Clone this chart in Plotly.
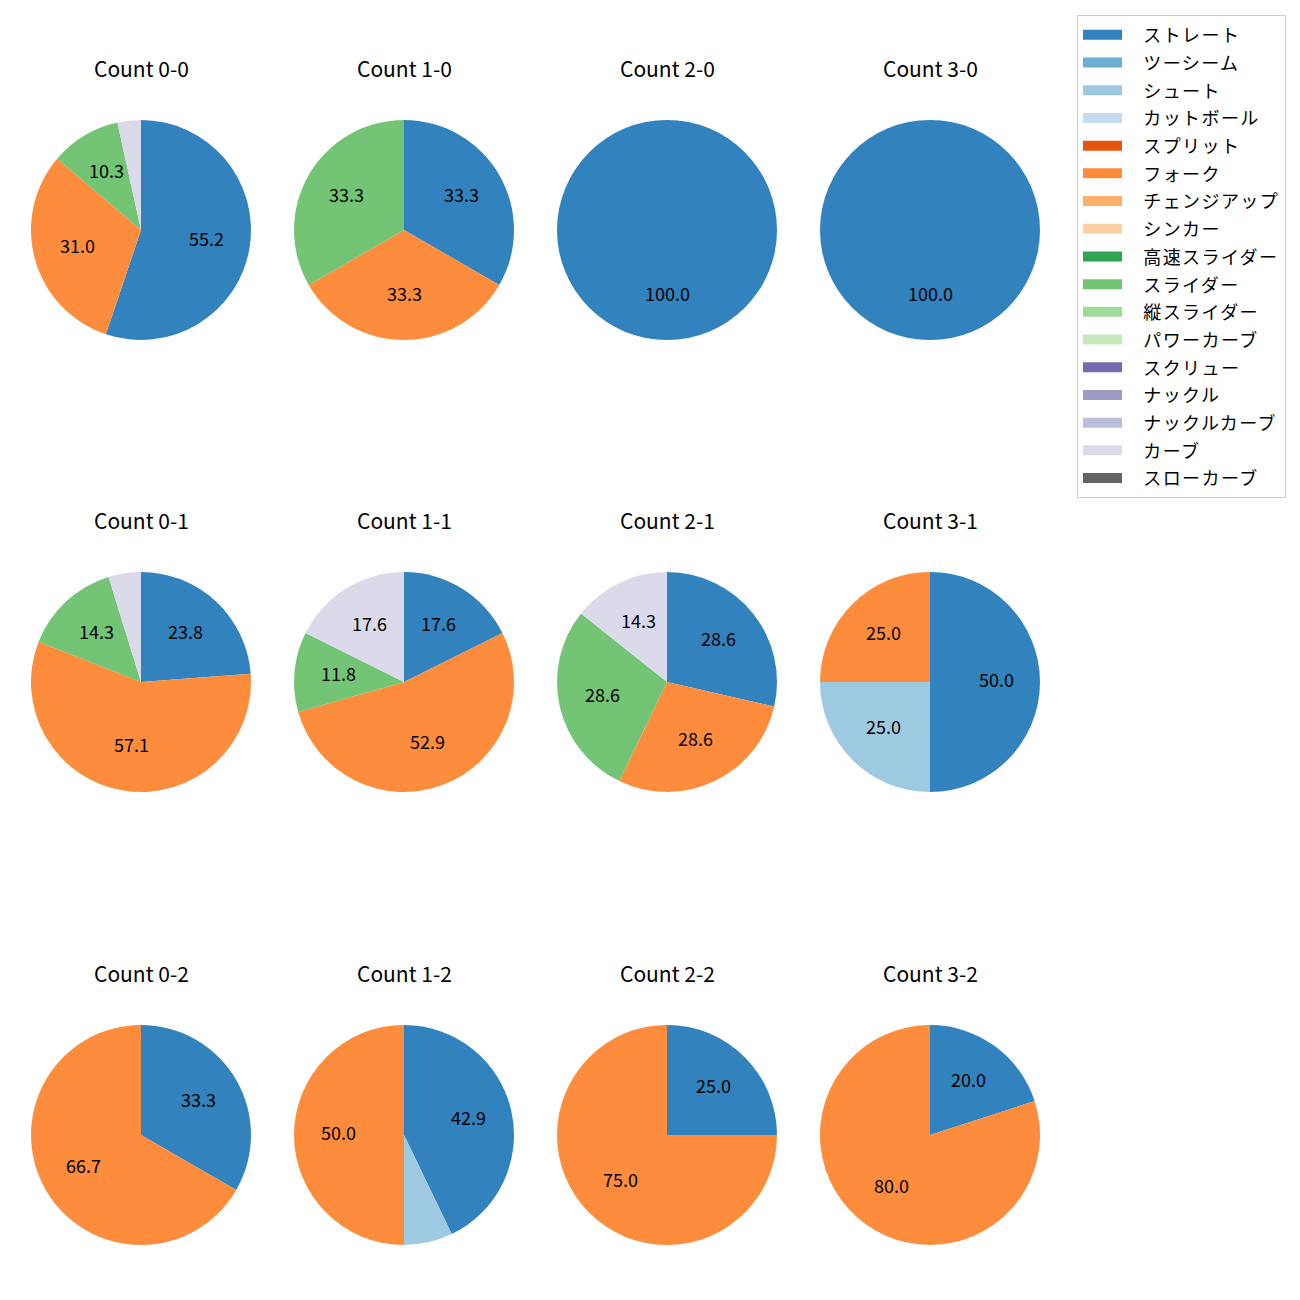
import math
import plotly.graph_objects as go

pitch_types = ["ストレート", "ツーシーム", "シュート", "カットボール", "スプリット", "フォーク",
               "チェンジアップ", "シンカー", "高速スライダー", "スライダー", "縦スライダー",
               "パワーカーブ", "スクリュー", "ナックル", "ナックルカーブ", "カーブ", "スローカーブ"]
colors = ["#3182bd", "#6baed6", "#9ecae1", "#c6dbef", "#e6550d", "#fd8d3c", "#fdae6b", "#fdd0a2",
          "#31a354", "#74c476", "#a1d99b", "#c7e9c0", "#756bb1", "#9e9ac8", "#bcbddc", "#dadaeb",
          "#636363"]

titles = ["Count 0-0", "Count 1-0", "Count 2-0", "Count 3-0",
          "Count 0-1", "Count 1-1", "Count 2-1", "Count 3-1",
          "Count 0-2", "Count 1-2", "Count 2-2", "Count 3-2"]

count_0_0 = {"ストレート": 16, "フォーク": 9, "スライダー": 3, "カーブ": 1}
count_1_0 = {"ストレート": 1, "フォーク": 1, "スライダー": 1}
count_2_0 = {"ストレート": 1}
count_3_0 = {"ストレート": 1}
count_0_1 = {"ストレート": 5, "フォーク": 12, "スライダー": 3, "カーブ": 1}
count_1_1 = {"ストレート": 3, "フォーク": 9, "スライダー": 2, "カーブ": 3}
count_2_1 = {"ストレート": 2, "フォーク": 2, "スライダー": 2, "カーブ": 1}
count_3_1 = {"ストレート": 2, "シュート": 1, "フォーク": 1}
count_0_2 = {"ストレート": 1, "フォーク": 2}
count_1_2 = {"ストレート": 6, "シュート": 1, "フォーク": 7}
count_2_2 = {"ストレート": 1, "フォーク": 3}
count_3_2 = {"ストレート": 1, "フォーク": 4}

panels = [count_0_0, count_1_0, count_2_0, count_3_0,
          count_0_1, count_1_1, count_2_1, count_3_1,
          count_0_2, count_1_2, count_2_2, count_3_2]

W = H = 1300
OFF = 8  # page body margin
col_cx = [141, 404, 667, 930]
row_cy = [230, 682, 1135]
R = 110
FONT = "Noto Sans CJK JP, Noto Sans, sans-serif"


def px_x(x):
    return (x - OFF) / W


def px_y(y):
    return 1 - (y - OFF) / H


fig = go.Figure()
annotations = []
for k, (title, data) in enumerate(zip(titles, panels)):
    r, c = divmod(k, 4)
    cx, cy = col_cx[c], row_cy[r]
    vals = [data.get(p, 0) for p in pitch_types]
    total = sum(vals)
    fig.add_trace(go.Pie(
        labels=pitch_types,
        values=vals,
        textinfo="none",
        marker=dict(colors=colors, line=dict(width=0)),
        sort=False,
        direction="clockwise",
        rotation=0,
        hoverinfo="label+percent",
        showlegend=False,
        domain=dict(x=[px_x(cx - R), px_x(cx + R)],
                    y=[px_y(cy + R), px_y(cy - R)]),
    ))
    # percentage labels at 0.6 radius along each wedge's mid-angle
    cum = 0.0
    for v in vals:
        frac = v / total
        pct = frac * 100
        if pct >= 10:
            mid = math.radians(90 - 360 * (cum + frac / 2))
            lx = cx + 0.6 * R * math.cos(mid)
            ly = cy - 0.6 * R * math.sin(mid) - 3
            annotations.append(dict(
                text=f"{pct:.1f}", x=px_x(lx), y=px_y(ly), xref="paper", yref="paper",
                showarrow=False, xanchor="center", yanchor="middle",
                font=dict(family=FONT, size=18, color="black"),
            ))
        cum += frac
    annotations.append(dict(
        text=title, x=px_x(cx), y=px_y(cy - 162), xref="paper", yref="paper",
        showarrow=False, xanchor="center", yanchor="middle",
        font=dict(family=FONT, size=21, color="black"),
    ))

# legend entries (one per pitch type, drawn as filled patches)
for p, col in zip(pitch_types, colors):
    fig.add_trace(go.Scatter(
        x=[None], y=[None], mode="lines",
        name=f'<span style="font-size:18px;letter-spacing:1.4px">\u00a0\u00a0\u00a0{p}</span>',
        line=dict(color=col, width=12), showlegend=True, hoverinfo="skip",
    ))

fig.update_layout(
    width=W, height=H,
    margin=dict(l=0, r=0, t=0, b=0),
    paper_bgcolor="white", plot_bgcolor="white",
    xaxis=dict(visible=False), yaxis=dict(visible=False),
    annotations=annotations,
    showlegend=True,
    legend=dict(
        x=px_x(1077), y=px_y(15), xanchor="left", yanchor="top",
        font=dict(family=FONT, size=19, color="black"),
        bordercolor="#cccccc", borderwidth=1, bgcolor="white",
        itemwidth=39, traceorder="normal",
    ),
)
fig.write_html("out.html")
